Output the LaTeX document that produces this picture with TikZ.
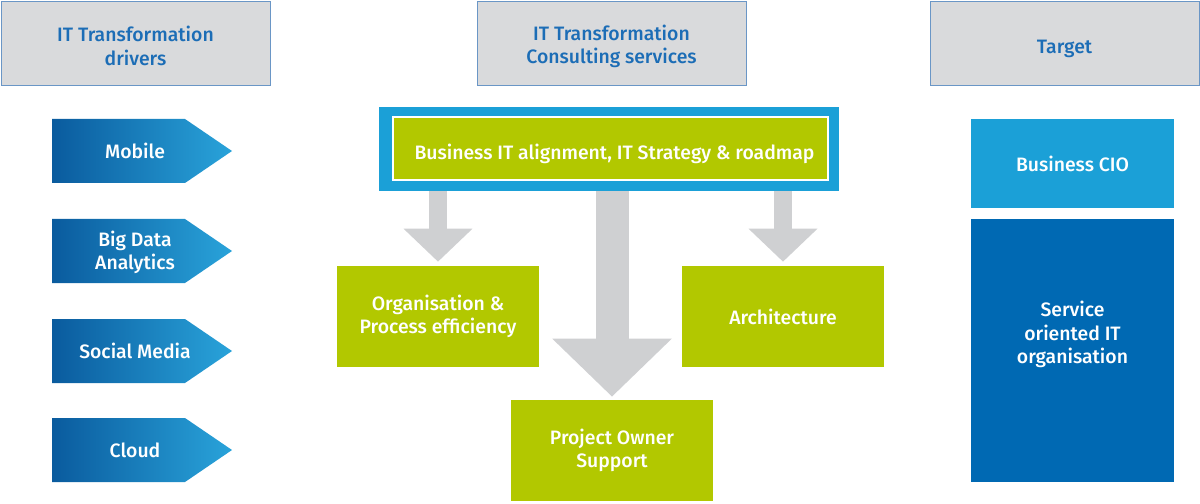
\documentclass[tikz,border=0pt]{standalone}
\usepackage{fontspec}
\setmainfont{Fira Sans}[UprightFont={* Medium}]
\usepackage{xcolor}
\usetikzlibrary{arrows.meta, positioning, calc}

\definecolor{hdrgray}{HTML}{D9DADC}
\definecolor{hdrline}{HTML}{6A96C6}
\definecolor{hdrtext}{HTML}{1C6DB6}
\definecolor{drvdark}{HTML}{0A5B9E}
\definecolor{drvlight}{HTML}{29A3DA}
\definecolor{lightblue}{HTML}{1BA0D7}
\definecolor{darkblue}{HTML}{0069B3}
\definecolor{lime}{HTML}{B2C800}
\definecolor{arrgray}{HTML}{CFD0D2}

\begin{document}
\begin{tikzpicture}[
      x=0.025cm, y=-0.025cm,
      boxfont/.style={font=\fontsize{13.8}{16.5}\selectfont},
      header/.style={
        rectangle, draw=hdrline, line width=0.6pt, fill=hdrgray,
        minimum width=6.725cm, minimum height=2.1cm, inner sep=0pt},
      headtext/.style={boxfont, align=center, text=hdrtext, inner sep=0pt},
      driver/.style={left color=drvdark, right color=drvlight},
      drvtext/.style={boxfont, text=white, align=center},
      service/.style={
        rectangle, fill=lime, minimum width=5.05cm, minimum height=2.525cm,
        inner sep=0pt, align=center, text=white, boxfont},
      target/.style={
        rectangle, minimum width=5.075cm, inner sep=0pt, align=center,
        text=white, boxfont},
      blockarr/.style={draw=arrgray, line width=0.45cm,
        -{Triangle[length=0.825cm, width=1.675cm]}}
    ]
    \useasboundingbox (0,0) rectangle (1200,504);

    % --- Column headers ---
    \node[header, label={[headtext, yshift=-0.075cm]center:{IT Transformation\\drivers}}]
      (hdrdrivers) at (135.5,43) {};
    \node[header, label={[headtext, yshift=-0.075cm]center:{IT Transformation\\Consulting services}}]
      (hdrservices) at (611.5,43) {};
    \node[header, label={[headtext, yshift=-0.15cm]center:Target}]
      (hdrtarget) at (1064.5,43) {};

    % --- Drivers ---
    \shade[driver] (52,119) -- (185,119) -- (232,151) -- (185,183) -- (52,183) -- cycle;
    \shade[driver] (52,219) -- (185,219) -- (232,251) -- (185,283) -- (52,283) -- cycle;
    \shade[driver] (52,319) -- (185,319) -- (232,351) -- (185,383) -- (52,383) -- cycle;
    \shade[driver] (52,418) -- (185,418) -- (232,450) -- (185,482) -- (52,482) -- cycle;
    \node[drvtext] (mobile) at (135,151) {Mobile};
    \node[drvtext] (bigdata) at (135,252) {Big Data\\Analytics};
    \node[drvtext] (social) at (135,351) {Social Media};
    \node[drvtext] (cloud) at (135,450) {Cloud};

    % --- Consulting services ---
    \node[rectangle, fill=lightblue, minimum width=11.5cm, minimum height=2.1cm,
          inner sep=0pt] (stratframe) at (609,149) {};
    \node[service, draw=white, line width=1.2pt, minimum width=10.875cm,
          minimum height=1.575cm,
          label={[boxfont, text=white, xshift=0.1cm, yshift=-0.125cm]center:Business IT alignment, IT Strategy \& roadmap}]
          (strategy) at (610.5,148.5) {};
    \node[service] (orga)  at (438,316.5) {Organisation \&\\Process efficiency};
    \node[service] (arch)  at (783,316.5) {Architecture};
    \node[service] (owner) at (612,450.5) {Project Owner\\Support};

    % --- Block arrows ---
    \draw[blockarr] (orga.north |- stratframe.south) -- ($(orga.north)+(0,-4)$);
    \draw[blockarr] (arch.north |- stratframe.south) -- ($(arch.north)+(0,-4)$);
    \draw[blockarr, line width=0.825cm, -{Triangle[length=1.45cm, width=2.9cm]}]
      (owner.north |- stratframe.south) -- ($(owner.north)+(0,-3)$);

    % --- Target ---
    \node[target, fill=lightblue, minimum height=2.225cm] (cio) at (1072.5,163.5) {Business CIO};
    \node[target, fill=darkblue, minimum height=6.575cm,
          label={[boxfont, text=white, align=center, yshift=0.4cm]center:{Service\\oriented IT\\organisation}}]
          (soa) at (1072.5,350.5) {};
  \end{tikzpicture}
\end{document}
